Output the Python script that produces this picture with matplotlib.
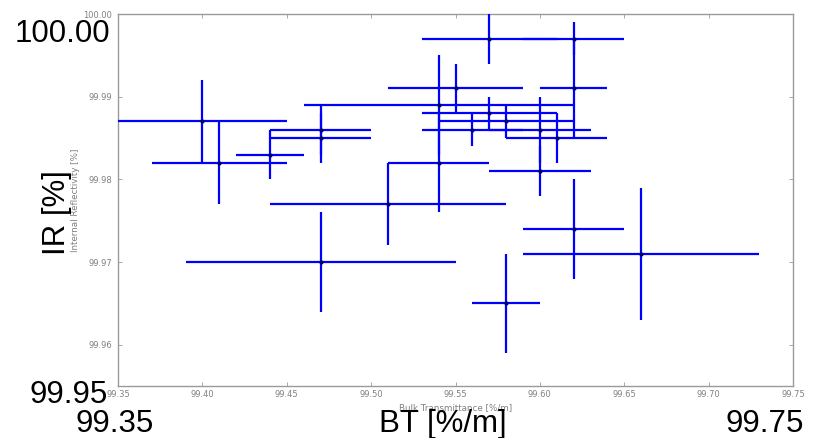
import matplotlib
matplotlib.use("Agg")
import matplotlib.pyplot as plt

# Data
bt = [99.40, 99.41, 99.44, 99.47, 99.47, 99.54, 99.54, 99.51, 99.47, 99.58, 99.57,
      99.62, 99.62, 99.55, 99.57, 99.56, 99.60, 99.60, 99.58, 99.61, 99.62, 99.66]
ir = [99.987, 99.982, 99.983, 99.986, 99.985, 99.989, 99.982, 99.977, 99.970, 99.965, 99.997,
      99.997, 99.991, 99.991, 99.988, 99.986, 99.986, 99.981, 99.987, 99.985, 99.974, 99.971]
bt_err = [0.05, 0.04, 0.02, 0.03, 0.03, 0.08, 0.03, 0.07, 0.08, 0.02, 0.04,
          0.03, 0.02, 0.04, 0.04, 0.03, 0.03, 0.03, 0.04, 0.03, 0.03, 0.07]
ir_err = [0.005, 0.005, 0.003, 0.003, 0.003, 0.006, 0.006, 0.005, 0.006, 0.006, 0.003,
          0.002, 0.006, 0.003, 0.002, 0.002, 0.004, 0.003, 0.002, 0.003, 0.006, 0.008]

x_ticks = [99.35, 99.40, 99.45, 99.50, 99.55, 99.60, 99.65, 99.70, 99.75]
y_ticks = [99.96, 99.97, 99.98, 99.99, 100.00]

W, H = 817, 438
fig = plt.figure(figsize=(W / 100, H / 100), dpi=100)
ax = fig.add_axes([118 / W, 1 - 386 / H, (793 - 118) / W, (386 - 14) / H])

ax.errorbar(bt, ir, xerr=bt_err, yerr=ir_err, fmt='o', ms=2,
            mfc='#000066', mec='#000066', ecolor='#0000ff', elinewidth=1.6,
            capsize=0, zorder=3)

ax.set_xlim(99.35, 99.75)
ax.set_ylim(99.955, 100.00)
ax.set_xticks(x_ticks)
ax.set_yticks(y_ticks)
ax.set_xticklabels([f"{v:.2f}" for v in x_ticks])
ax.set_yticklabels([f"{v:.2f}" for v in y_ticks])
for s in ax.spines.values():
    s.set_color('#9a9a9a')
    s.set_linewidth(1.0)
ax.tick_params(direction='in', length=3, width=0.6, colors='#9a9a9a',
               labelcolor='#808080', labelsize=6, top=True, right=True)
ax.tick_params(axis='x', pad=3)
ax.tick_params(axis='y', pad=4.3)
ax.set_xlabel('Bulk Transmittance [%/m]', fontsize=6.3, color='#808080', labelpad=3)
ax.set_ylabel('Internal Reflectivity [%]', fontsize=6.3, color='#808080', labelpad=2.5)


def fx(px):
    return px / W


def fy(py):
    return 1 - py / H


big = dict(fontsize=22.5, family=['Liberation Sans', 'DejaVu Sans'], color='black')
fig.text(fx(110), fy(41.7), '100.00', ha='right', va='baseline', **big)
fig.text(fx(108), fy(403.3), '99.95', ha='right', va='baseline', **big)
fig.text(fx(115), fy(432.3), '99.35', ha='center', va='baseline', **big)
fig.text(fx(764.5), fy(432.3), '99.75', ha='center', va='baseline', **big)
fig.text(fx(443), fy(432.3), 'BT [%/m]', ha='center', va='baseline', **big)
fig.text(fx(57), fy(213), 'IR [%]', ha='center', va='center', rotation=90, **big)

fig.savefig('out.png', dpi=100)
